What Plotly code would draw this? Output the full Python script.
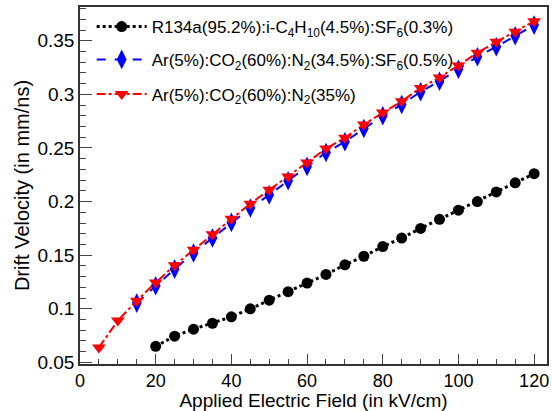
import plotly.graph_objects as go

# Applied electric field (kV/cm)
field_r134a = [20, 25, 30, 35, 40, 45, 50, 55, 60, 65, 70, 75, 80, 85, 90, 95, 100, 105, 110, 115, 120]
field_ar_sf6 = [15, 20, 25, 30, 35, 40, 45, 50, 55, 60, 65, 70, 75, 80, 85, 90, 95, 100, 105, 110, 115, 120]
field_ar = [5, 10, 15, 20, 25, 30, 35, 40, 45, 50, 55, 60, 65, 70, 75, 80, 85, 90, 95, 100, 105, 110, 115, 120]

# Drift velocity (mm/ns)
vel_r134a = [0.065, 0.0745, 0.081, 0.0865, 0.0925, 0.100, 0.108, 0.116, 0.124, 0.132, 0.141,
             0.149, 0.158, 0.166, 0.175, 0.1835, 0.192, 0.200, 0.209, 0.2175, 0.226]
vel_ar_sf6 = [0.1053, 0.1215, 0.137, 0.152, 0.166, 0.1806, 0.194, 0.2063, 0.2194, 0.2328, 0.2458,
              0.2558, 0.2682, 0.280, 0.2906, 0.3024, 0.3123, 0.3235, 0.3351, 0.3444, 0.3547, 0.3646]
vel_ar = [0.064, 0.089, 0.1075, 0.1245, 0.1405, 0.155, 0.1695, 0.184, 0.198, 0.211, 0.2235, 0.2365,
          0.2495, 0.2595, 0.272, 0.283, 0.2937, 0.306, 0.3158, 0.327, 0.3388, 0.349, 0.3584, 0.3683]

name_r134a = "R134a(95.2%):i-C<sub>4</sub>H<sub>10</sub>(4.5%):SF<sub>6</sub>(0.3%)"
name_ar_sf6 = "Ar(5%):CO<sub>2</sub>(60%):N<sub>2</sub>(34.5%):SF<sub>6</sub>(0.5%)"
name_ar = "Ar(5%):CO<sub>2</sub>(60%):N<sub>2</sub>(35%)"

FONT = "Liberation Sans, Arial, sans-serif"

fig = go.Figure()
fig.add_trace(go.Scatter(
    x=field_r134a, y=vel_r134a, name=name_r134a, mode="lines+markers", legend="legend",
    line=dict(color="black", width=3, dash="dot"),
    marker=dict(symbol="circle", size=11, color="black"),
))
fig.add_trace(go.Scatter(
    x=field_ar_sf6, y=vel_ar_sf6, name=name_ar_sf6, mode="lines+markers", legend="legend2",
    line=dict(color="#0000ff", width=2, dash="dash"),
    marker=dict(symbol="diamond-tall", size=14, color="#0000ff"),
))
fig.add_trace(go.Scatter(
    x=field_ar, y=vel_ar, name=name_ar, mode="lines+markers", legend="legend3",
    line=dict(color="#ff0000", width=2, dash="dashdot"),
    marker=dict(symbol="triangle-down", size=12, color="#ff0000"),
))

# one legend box per entry so the rows can be spaced freely
def legend_box(ypos):
    return dict(
        x=0.025, y=ypos, xanchor="left", yanchor="middle",
        bgcolor="rgba(0,0,0,0)", borderwidth=0,
        font=dict(family=FONT, size=17, color="black"),
        itemwidth=50,
    )

fig.update_layout(
    width=552, height=411,
    margin=dict(l=80, r=3, t=7, b=45),
    paper_bgcolor="white", plot_bgcolor="white",
    font=dict(family=FONT, size=18, color="black"),
    showlegend=True,
    legend=legend_box(0.944),
    legend2=legend_box(0.852),
    legend3=legend_box(0.755),
    xaxis=dict(
        range=[0, 123.4], tick0=0, dtick=20,
        ticks="inside", ticklen=10, tickcolor="#444", tickwidth=1,
        minor=dict(dtick=5, ticks="inside", ticklen=5, tickcolor="#444"),
        showline=True, linecolor="#333", linewidth=1.5, mirror=True,
        showgrid=False, zeroline=False,
        tickfont=dict(family=FONT, size=18),
        title=dict(text="Applied Electric Field (in kV/cm)", font=dict(family=FONT, size=19), standoff=3),
    ),
    yaxis=dict(
        range=[0.0485, 0.3815], tick0=0, dtick=0.05,
        ticks="inside", ticklen=12, tickcolor="#444", tickwidth=1,
        minor=dict(dtick=0.01, ticks="inside", ticklen=6, tickcolor="#444"),
        showline=True, linecolor="#333", linewidth=1.5, mirror=True,
        showgrid=False, zeroline=False,
        tickfont=dict(family=FONT, size=19),
        title=dict(text="Drift Velocity (in mm/ns)", font=dict(family=FONT, size=20), standoff=2),
    ),
)

fig.write_html("out.html")
